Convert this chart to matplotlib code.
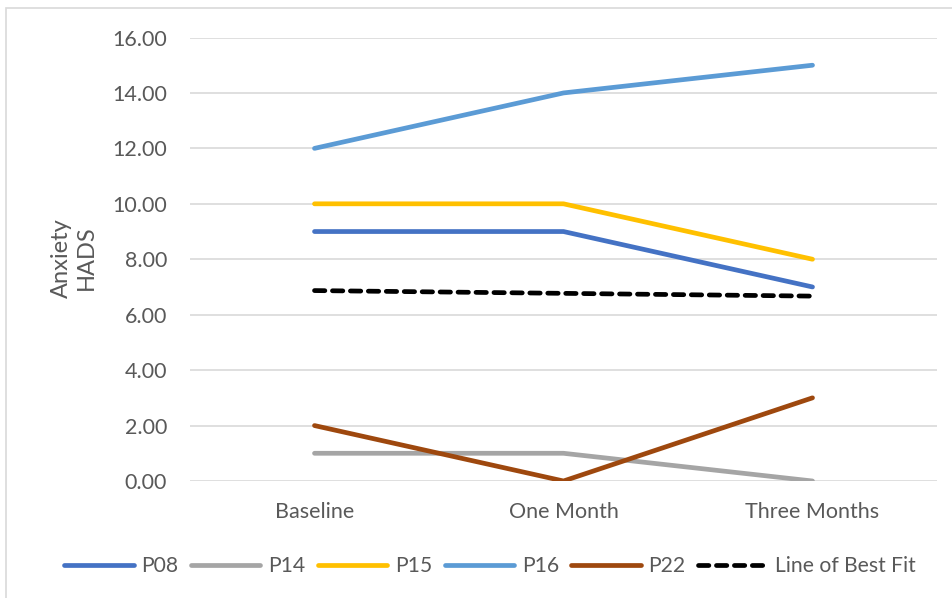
import matplotlib.pyplot as plt
from matplotlib.patches import Rectangle

# anxiety scores (HADS) per participant over time
timepoints = ['Baseline', 'One Month', 'Three Months']
p08 = [9, 9, 7]
p14 = [1, 1, 0]
p15 = [10, 10, 8]
p16 = [12, 14, 15]
p22 = [2, 0, 3]
best_fit = [6.87, 6.77, 6.67]

series = [
    ('P08', p08, '#4472C4'),
    ('P14', p14, '#A5A5A5'),
    ('P15', p15, '#FFC000'),
    ('P16', p16, '#5B9BD5'),
    ('P22', p22, '#9E480E'),
]

plt.rcParams['font.family'] = ['Lato', 'DejaVu Sans']
text_color = '#595959'

fig = plt.figure(figsize=(9.52, 5.98), dpi=100)
ax = fig.add_axes([190 / 952, 1 - 481 / 598, (937 - 190) / 952, (481 - 37.5) / 598])

x = range(len(timepoints))
for name, values, color in series:
    ax.plot(x, values, color=color, lw=3.4, label=name, solid_capstyle='round')
ax.plot(x, best_fit, color='black', lw=3.4, ls=(0, (2.2, 1.6)), label='Line of Best Fit',
        dash_capstyle='round')

ax.set_xlim(-0.5, 2.5)
ax.set_ylim(0, 16)
ax.set_yticks(range(0, 17, 2))
ax.set_yticklabels([f'{v:.2f}' for v in range(0, 17, 2)])
ax.set_xticks(list(x))
ax.set_xticklabels(timepoints)
ax.grid(axis='y', color='#D9D9D9', lw=1.2)
ax.set_axisbelow(True)
for s in ax.spines.values():
    s.set_visible(False)
ax.tick_params(length=0, labelsize=15.5, colors=text_color)
ax.tick_params(axis='y', pad=16.5)
ax.tick_params(axis='x', pad=15)

fig.text(74 / 952, 1 - 258 / 598, 'Anxiety\nHADS', rotation=90, ha='center', va='center',
         fontsize=17, color=text_color, linespacing=1.2)

leg = fig.legend(loc='center', bbox_to_anchor=(490 / 952, 1 - 566 / 598), ncol=6, frameon=False,
                 fontsize=15.2, handlelength=3.3, handletextpad=0.35, columnspacing=0.6)
for t in leg.get_texts():
    t.set_color(text_color)

# outer chart frame
fig.patches.append(Rectangle((6 / 952, -0.05), 1.1, 1 - 8 / 598 + 0.05, transform=fig.transFigure,
                             fill=False, edgecolor='#D9D9D9', lw=1.2))

fig.savefig('out.png', dpi=100)
